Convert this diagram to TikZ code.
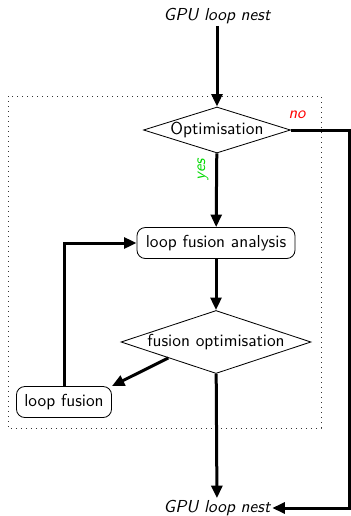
\documentclass[tikz,border=0pt]{standalone}
\usetikzlibrary{shapes.geometric,arrows.meta}
\renewcommand{\familydefault}{\sfdefault}
\begin{document}
\begin{tikzpicture}[x=0.6pt,y=-0.6pt,
  txt/.style={font=\fontsize{10.4}{12}\selectfont},
  flow/.style={line width=1.8pt,-{Triangle[length=7.5pt,width=6.5pt]}},
  decision/.style={diamond,draw,line width=0.5pt,inner sep=0pt,txt},
  process/.style={rectangle,draw,rounded corners=5pt,line width=0.5pt,inner sep=0pt,txt},
  endpoint/.style={font=\fontsize{10.4}{12}\selectfont\itshape,inner sep=1pt},
  branch/.style={font=\fontsize{10}{12}\selectfont\itshape}]
\useasboundingbox (0,0) rectangle (350,516);
% region grouping the optimisation steps
\draw[line width=0.6pt,dash pattern=on 0.6pt off 2.4pt,black!80] (8,96) rectangle (321,428);

\node[endpoint] (in) at (217,16) {GPU loop nest};
\node[decision,aspect=3.2,minimum width=88.2pt,minimum height=27.6pt] (opt) at (217,130) {Optimisation};
\node[process,minimum width=94.8pt,minimum height=18.6pt] (ana) at (216,243) {loop fusion analysis};
\node[decision,aspect=3.0,minimum width=114pt,minimum height=37.8pt] (fopt) at (216,342) {fusion optimisation};
\node[process,minimum width=57pt,minimum height=18.6pt] (fus) at (64,402) {loop fusion};
\node[endpoint] (out) at (217,508) {GPU loop nest};
\coordinate (noc) at (349,130);

\draw[flow] (in) -- (opt);
\draw[flow] (opt) -- node[pos=0.22,rotate=90,anchor=south,inner sep=4pt,branch,text=green!85!black]{yes} (ana);
\draw[flow] (ana) -- (fopt);
\draw[flow] (fopt.south west) -- (fus.north east);
\draw[flow] (fus.north) |- (ana.west);
\draw[flow] (fopt) -- (out);
\draw[flow] (opt.east) -- (noc) |- (out.east);
\node[branch,text=red] (no) at (297,115) {no};
\end{tikzpicture}
\end{document}
